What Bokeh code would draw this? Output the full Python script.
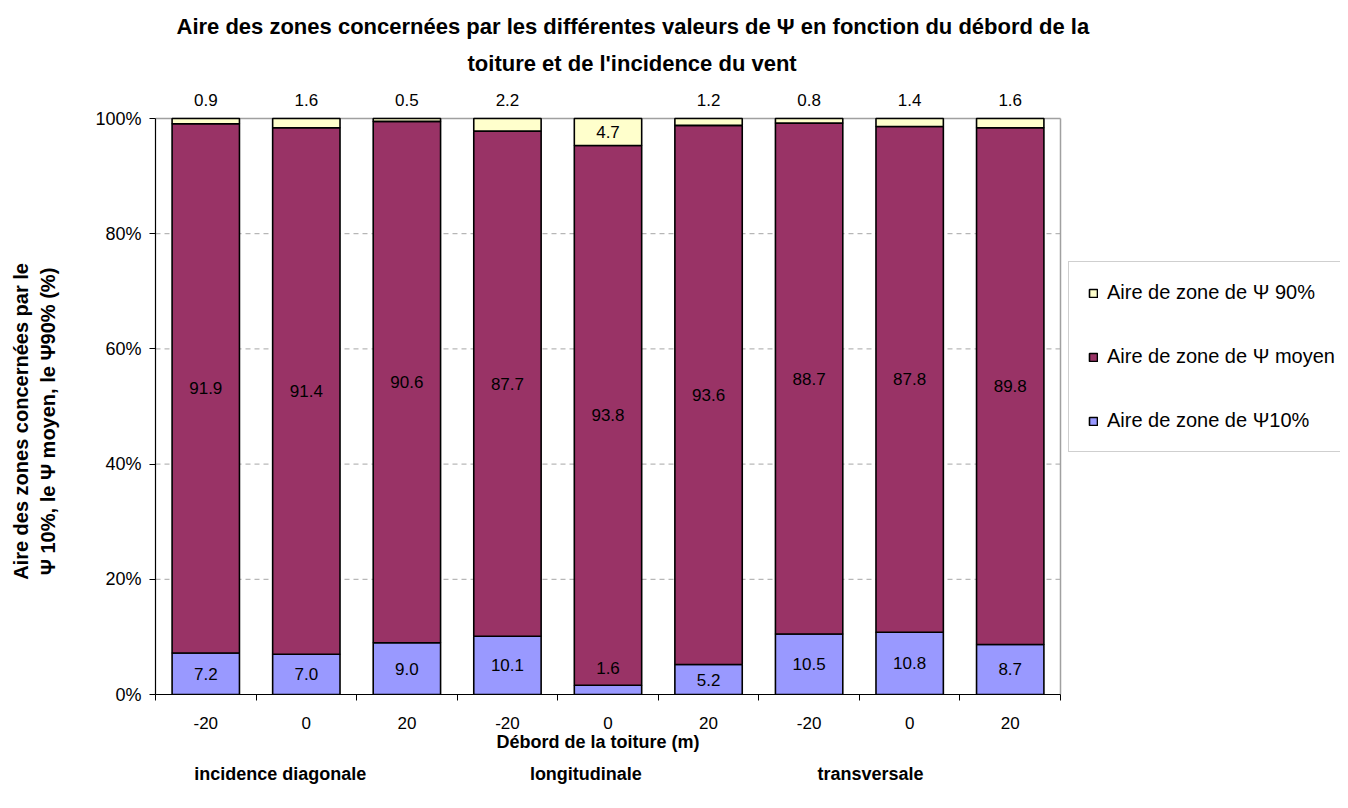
import numpy as np
from bokeh.plotting import figure
from bokeh.models import (ColumnDataSource, Range1d, FixedTicker, Legend, LegendItem,
                          LabelSet, PrintfTickFormatter, LinearAxis, Title)
from bokeh.core.properties import value
from bokeh.embed import file_html
from bokeh.resources import INLINE

# ---- data ----
debord_labels = ["-20", "0", "20", "-20", "0", "20", "-20", "0", "20"]
incidences = ["incidence diagonale", "longitudinale", "transversale"]
incidence_pos = [1.24, 4.28, 7.11]
psi10 = [7.2, 7.0, 9.0, 10.1, 1.6, 5.2, 10.5, 10.8, 8.7]
psi_moyen = [91.9, 91.4, 90.6, 87.7, 93.8, 93.6, 88.7, 87.8, 89.8]
psi90 = [0.9, 1.6, 0.5, 2.2, 4.7, 1.2, 0.8, 1.4, 1.6]
series_names = ["Aire de zone de Ψ10%", "Aire de zone de Ψ moyen", "Aire de zone de Ψ 90%"]
y_ticks = [0, 20, 40, 60, 80, 100]
colors = ["#9999FF", "#993366", "#FFFFCC"]
title_lines = ["Aire des zones concernées par les différentes valeurs de Ψ en fonction du débord de la",
               "toiture et de l'incidence du vent"]
x_title = "Débord de la toiture (m)"
x_title_pos = 4.40
y_title_lines = ["Aire des zones concernées par le", "Ψ 10%, le Ψ moyen, le Ψ90% (%)"]
y_title_pos = 47.4

FONT = "Liberation Sans"

n = len(debord_labels)
a10 = np.array(psi10)
am = np.array(psi_moyen)
a90 = np.array(psi90)
tot = a10 + am + a90
n10 = a10 / tot * 100
nm = am / tot * 100
n90 = a90 / tot * 100
x = np.arange(n) + 0.5

src = ColumnDataSource(dict(
    x=x, p10=n10, pm=nm, p90=n90,
    t10=[f"{v:.1f}" for v in psi10],
    tm=[f"{v:.1f}" for v in psi_moyen],
    t90=[f"{v:.1f}" for v in psi90],
    y10=np.where(n10 < 3, n10 + 3.0, n10 / 2),
    ym=n10 + nm / 2,
    y90=np.where(n90 >= 3, n10 + nm + n90 / 2, 103.2),
))

# layout geometry (pixels)
W, H = 1340, 800
LEFT, RIGHT_PLOT, TOP, TOP100, BOTTOM = 155, 1060, 80, 118, 694
plot_px_w = RIGHT_PLOT - LEFT
frame_w = W - LEFT
x_end = n * frame_w / plot_px_w
y_end = 100 * (BOTTOM - TOP) / (BOTTOM - TOP100)

p = figure(width=W, height=H, output_backend="svg", toolbar_location=None,
           x_range=Range1d(0, x_end), y_range=Range1d(0, y_end),
           min_border_left=LEFT, min_border_top=TOP, min_border_bottom=H - BOTTOM,
           min_border_right=0)

# gridlines and plot-area border
grid_y = [t for t in y_ticks if 0 < t < 100]
p.segment(x0=[0] * len(grid_y), x1=[n] * len(grid_y), y0=grid_y, y1=grid_y,
          line_color="#a6a6a6", line_dash="5 4", line_width=1)
p.segment(x0=[0, n], x1=[n, n], y0=[100, 0], y1=[100, 100], line_color="#a0a0a0", line_width=1.5)

rs = p.vbar_stack(["p10", "pm", "p90"], x="x", width=0.67, color=colors,
                  line_color="black", line_width=1.6, source=src)

p.xgrid.visible = False
p.ygrid.visible = False
p.outline_line_color = None

# main axes
p.xaxis.bounds = (0, n)
p.xaxis.ticker = FixedTicker(ticks=list(x), minor_ticks=list(range(n + 1)))
p.xaxis.major_label_overrides = {float(v): l for v, l in zip(x, debord_labels)}
p.xaxis.major_tick_line_color = None
p.xaxis.major_tick_out = 0
p.xaxis.minor_tick_out = 6
p.xaxis.minor_tick_in = 0
p.xaxis.minor_tick_line_color = "black"
p.xaxis.minor_tick_line_width = 1
p.xaxis.major_label_standoff = 16

p.yaxis.bounds = (0, 100)
p.yaxis.ticker = FixedTicker(ticks=y_ticks)
p.yaxis.formatter = PrintfTickFormatter(format="%d%%")
p.yaxis.major_tick_out = 6
p.yaxis.major_tick_in = 0
p.yaxis.minor_tick_line_color = None
p.yaxis.major_label_standoff = 8

for ax in (p.xaxis, p.yaxis):
    ax.axis_line_color = "black"
    ax.axis_line_width = 1.2
    ax.major_tick_line_width = 1
    ax.major_label_text_font = FONT
    ax.major_label_text_font_size = "18px"
    ax.major_label_text_color = "black"
p.xaxis.major_label_text_font_size = "17px"


def text_axis(ticks, labels, standoff, size, orientation="horizontal"):
    return LinearAxis(ticker=FixedTicker(ticks=ticks, minor_ticks=[]),
                      major_label_overrides={float(v): t for v, t in zip(ticks, labels)},
                      axis_line_color=None, major_tick_line_color=None,
                      minor_tick_line_color=None, major_tick_out=0, major_tick_in=0,
                      major_label_standoff=standoff, major_label_orientation=orientation,
                      major_label_text_font=FONT, major_label_text_font_size=size,
                      major_label_text_font_style="bold", major_label_text_color="black")


# x-axis title and incidence group labels (below)
p.add_layout(text_axis([x_title_pos], [x_title], 0, "18px"), "below")
p.add_layout(text_axis(incidence_pos, incidences, 9, "18px"), "below")

# y-axis title, two lines (left): inner line first
p.add_layout(text_axis([y_title_pos], [y_title_lines[1]], 33, "20px", "vertical"), "left")
p.add_layout(text_axis([y_title_pos], [y_title_lines[0]], 2, "20px", "vertical"), "left")

# value labels
for col, ycol in (("t10", "y10"), ("tm", "ym"), ("t90", "y90")):
    p.add_layout(LabelSet(x="x", y=ycol, text=col, source=src, text_align="center",
                          text_baseline="middle", text_font=value(FONT),
                          text_font_size=value("17px"), text_color="black"))

# title (two lines): add the lower line first
for t, off in zip(reversed(title_lines), (312, 21)):
    p.add_layout(Title(text=t, align="left", offset=off, text_font=FONT,
                       text_font_size="22px", text_font_style="bold", text_color="black"),
                 "above")

# legend (inside the frame, to the right of the plot area)
items = [LegendItem(label=series_names[i], renderers=[rs[i]]) for i in (2, 1, 0)]
legend = Legend(items=items, location=(RIGHT_PLOT - LEFT + 8, 242), margin=0,
                glyph_width=10, glyph_height=10,
                label_standoff=9, padding=19, spacing=41, label_height=20, label_width=228,
                border_line_color="#a0a0a0", border_line_width=1.5,
                label_text_font=FONT, label_text_font_size="20px", label_text_color="black",
                background_fill_color="white")
p.add_layout(legend, "center")

open("out.html", "w").write(file_html(p, INLINE))
